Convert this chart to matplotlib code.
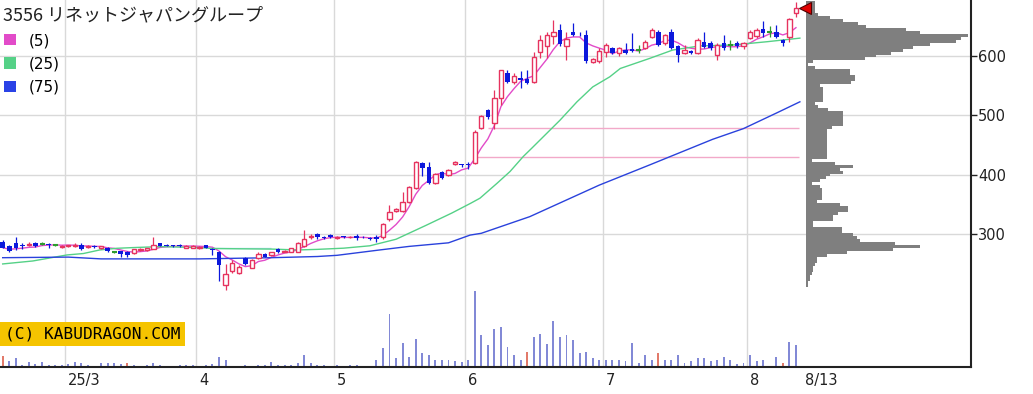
import matplotlib
matplotlib.use('Agg')
import matplotlib.pyplot as plt
from matplotlib.patches import Patch
import numpy as np
import pandas as pd

title = '3556 リネットジャパングループ'

# daily candles, 2025-02-14 .. 2025-08-13 (trading days)
opens = [288, 281, 285, 282, 282, 285, 284, 284, 282, 279,
         280, 280, 283, 279, 281, 278, 278, 271, 272, 270,
         269, 274, 274, 276, 285, 283, 282, 283, 278, 278,
         277, 282, 276, 271, 215, 238, 236, 260, 244, 260,
         268, 265, 276, 271, 271, 271, 280, 295, 300, 296,
         299, 294, 297, 295, 297, 296, 294, 295, 296, 326,
         339, 339, 355, 378, 420, 414, 387, 405, 400, 418,
         418, 419, 420, 479, 509, 487, 529, 572, 556, 563,
         562, 557, 606, 617, 634, 644, 617, 640, 636, 635,
         590, 591, 607, 613, 605, 610, 612, 610, 613, 632,
         641, 621, 641, 616, 605, 608, 605, 624, 621, 602,
         621, 618, 621, 616, 630, 633, 646, 641, 641, 627,
         632, 672]
highs = [290, 283, 295, 285, 288, 287, 287, 285, 284, 283,
         283, 286, 285, 282, 282, 281, 279, 273, 273, 272,
         276, 278, 278, 296, 286, 284, 283, 284, 282, 282,
         281, 283, 277, 273, 250, 257, 249, 263, 258, 271,
         269, 271, 277, 274, 278, 287, 308, 300, 303, 297,
         300, 297, 298, 297, 300, 297, 296, 299, 320, 350,
         345, 372, 382, 423, 421, 422, 404, 407, 410, 423,
         419, 421, 476, 501, 511, 543, 577, 577, 572, 574,
         576, 607, 635, 640, 660, 654, 640, 655, 640, 643,
         597, 614, 622, 615, 615, 622, 638, 618, 627, 647,
         643, 637, 645, 618, 618, 610, 631, 640, 625, 621,
         635, 627, 625, 623, 643, 647, 658, 650, 652, 629,
         664, 690]
lows = [277, 270, 274, 276, 280, 279, 283, 278, 280, 278,
        279, 279, 274, 277, 277, 276, 270, 269, 263, 262,
        268, 273, 273, 275, 280, 280, 279, 279, 277, 277,
        276, 277, 266, 221, 207, 235, 234, 248, 243, 259,
        262, 264, 269, 270, 270, 270, 279, 293, 293, 293,
        294, 293, 294, 294, 290, 294, 291, 287, 293, 322,
        337, 337, 353, 376, 398, 385, 385, 393, 398, 416,
        413, 410, 418, 477, 494, 478, 518, 554, 553, 546,
        553, 555, 596, 597, 620, 617, 593, 633, 633, 589,
        589, 589, 598, 603, 600, 603, 607, 605, 611, 630,
        616, 618, 611, 590, 603, 604, 603, 613, 610, 594,
        610, 610, 614, 612, 628, 631, 632, 632, 630, 616,
        623, 666]
closes = [278, 272, 278, 280, 284, 281, 284, 282, 282, 281,
          282, 283, 276, 281, 279, 280, 272, 271, 268, 266,
          275, 276, 277, 282, 281, 281, 280, 280, 281, 281,
          279, 278, 274, 249, 233, 252, 246, 250, 257, 268,
          263, 270, 270, 273, 277, 285, 293, 297, 295, 294,
          295, 296, 295, 296, 294, 295, 292, 293, 318, 338,
          343, 355, 380, 422, 412, 386, 402, 395, 408, 422,
          416, 417, 473, 499, 498, 529, 576, 557, 566, 559,
          554, 598, 627, 635, 641, 620, 628, 636, 635, 591,
          595, 609, 619, 605, 613, 605, 609, 610, 624, 643,
          618, 635, 613, 602, 610, 605, 627, 615, 613, 618,
          613, 618, 616, 622, 641, 644, 638, 641, 632, 622,
          663, 680]
volumes = [113, 57, 87, 23, 53, 33, 53, 23, 23, 23,
           27, 50, 40, 20, 13, 40, 40, 37, 33, 40,
           17, 13, 23, 37, 20, 13, 13, 17, 17, 20,
           13, 23, 33, 100, 73, 13, 13, 23, 13, 17,
           20, 53, 20, 17, 20, 40, 120, 37, 20, 20,
           13, 17, 13, 17, 20, 13, 13, 73, 187, 530,
           87, 237, 103, 283, 140, 120, 70, 70, 70, 60,
           47, 73, 757, 317, 217, 383, 397, 203, 120, 73,
           153, 300, 333, 233, 463, 300, 317, 267, 137, 153,
           87, 73, 73, 73, 73, 57, 237, 40, 120, 73,
           137, 73, 73, 120, 40, 57, 90, 87, 57, 73,
           103, 73, 33, 40, 120, 57, 70, 13, 103, 40,
           250, 220]
vol_red_days = [0, 19, 80, 100, 119]

# moving averages (index, price)
ma25_idx = [0, 4.6, 9.8, 12.3, 14.8, 17.4, 19.9, 24, 30, 32, 36, 41, 45, 48, 52,
            56, 60, 64.5, 68.5, 71.3, 72.8, 75.4, 77.4, 79.4, 80.7, 85, 87.6,
            90, 92.6, 94.2, 98.7, 102.2, 106.4, 111.4, 116.6, 121.6]
ma25_val = [250.5, 255.5, 265.6, 268, 274, 276.8, 278, 279.6, 278, 276.5, 276,
            275.5, 274, 275, 277, 281, 292, 315, 336, 352, 361, 386, 406, 431,
            445, 492, 523, 548, 565, 579, 596, 610, 617, 618.5, 624, 630]
ma75_idx = [0, 10, 15, 30, 41, 48, 51, 57.5, 62, 68, 71.3, 73, 80.4, 91, 98.7,
            108.3, 113, 118, 121.6]
ma75_val = [261, 262, 259, 259, 261, 263, 265, 274, 280, 286, 299, 302, 330,
            383, 417, 460, 478, 504, 523]

# price-volume profile, 5 yen bins
profile_price = list(range(690, 210, -5))
profile_vol = [9, 9, 9, 9, 12, 24, 37, 52, 60, 100,
               114, 162, 155, 150, 124, 107, 97, 85, 70, 59,
               7, 2, 9, 44, 44, 49, 49, 45, 14, 17,
               17, 17, 17, 17, 9, 12, 22, 37, 37, 37,
               37, 37, 26, 21, 21, 21, 21, 21, 21, 21,
               21, 21, 21, 6, 29, 47, 34, 37, 24, 20,
               14, 6, 14, 16, 16, 16, 16, 11, 34, 42,
               42, 32, 27, 27, 7, 7, 36, 36, 47, 51,
               54, 89, 114, 87, 41, 21, 11, 11, 9, 7,
               7, 6, 4, 4, 2, 2]

# horizontal levels
level_price = [479, 430, 277]
level_from = [74, 72, 31.5]
level_to = [121.5, 121.5, 41]
level_color = ['#f2a9c9', '#f2a9c9', '#b8dcf2']

month_start = [10, 30, 51, 71, 92, 114]
month_labels = ['25/3', '4', '5', '6', '7', '8']
last_label = '8/13'

UP = '#e6335f'
DOWN = '#0c18dc'
DOJI = '#2e9a2e'
C5, C25, C75 = '#e24bc9', '#55d187', '#2a42dc'

fig = plt.figure(figsize=(10.33, 3.94), dpi=100)
ax = fig.add_axes([0, 27 / 394, 971 / 1033, 367 / 394])
ax.set_xlim(-0.41, 147.7)
ax.set_ylim(77.3, 694.1)

# volume underneath
axv = ax.twinx()
axv.set_ylim(0, 3670)
axv.axis('off')
ax.set_zorder(2)
ax.patch.set_visible(False)
axv.set_zorder(1)
x = np.arange(len(closes))
vcol = ['#e27a6a' if i in vol_red_days else '#8289d6' for i in x]
axv.bar(x, volumes, width=0.3, color=vcol, linewidth=0)

# grid
for m in month_start:
    ax.axvline(m - 0.5, color='#d9d9d9', lw=1, zorder=0)
ax.set_yticks([300, 400, 500, 600])
ax.grid(axis='y', color='#d9d9d9', lw=1, zorder=0)

for p, a, b, col in zip(level_price, level_from, level_to, level_color):
    ax.hlines(p, a, b, color=col, lw=1, zorder=1)

# moving averages
ma5 = pd.Series(closes).rolling(5, min_periods=1).mean()
ax.plot(x, ma5, color=C5, lw=1, zorder=2)
ax.plot(ma25_idx, ma25_val, color=C25, lw=1, zorder=2)
ax.plot(ma75_idx, ma75_val, color=C75, lw=1, zorder=2)

# candles
o, h, l, c = map(np.array, (opens, highs, lows, closes))
up, dn, dj = c > o, c < o, c == o
ax.vlines(x[up], l[up], h[up], color=UP, lw=0.9, zorder=3)
ax.bar(x[up], (c - o)[up], bottom=o[up], width=0.66, facecolor='white',
       edgecolor=UP, linewidth=1, zorder=4)
ax.vlines(x[dn], l[dn], h[dn], color=DOWN, lw=0.9, zorder=3)
ax.bar(x[dn], (o - c)[dn], bottom=c[dn], width=0.7, color=DOWN, linewidth=0, zorder=4)
ax.vlines(x[dj], l[dj], h[dj], color=DOJI, lw=0.9, zorder=3)
ax.hlines(c[dj], x[dj] - 0.38, x[dj] + 0.38, color=DOJI, lw=1.5, zorder=4)

ax.plot(x[-1] + 1.4, closes[-1], marker='<', ms=8, mfc='#e00000', mec='#500000',
        mew=0.8, zorder=6, clip_on=False)

# price-volume profile
axp = ax.inset_axes([806 / 971, 0, 165 / 971, 1])
axp.barh(profile_price, profile_vol, height=5, color='#7f7f7f', linewidth=0)
axp.set_xlim(0, 165)
axp.set_ylim(ax.get_ylim())
axp.axis('off')

# axes styling
for s in ['left', 'top']:
    ax.spines[s].set_visible(False)
for s in ['right', 'bottom']:
    ax.spines[s].set_color('#222222')
    ax.spines[s].set_linewidth(1.5)
ax.yaxis.tick_right()
ax.tick_params(axis='y', length=4, width=1, pad=1, labelsize=10.5, colors='#222222')
ax.set_xticks([m - 0.05 for m in month_start] + [len(closes) + 0.4])
ax.set_xticklabels(month_labels + [last_label])
ax.tick_params(axis='x', length=0, pad=4, labelsize=10.5, colors='#222222')
for t in ax.get_xticklabels():
    t.set_ha('left')

# title and legend
fig.text(3 / 1033, 1 - 15 / 394, title, fontsize=13, va='center',
         family=['Noto Sans CJK JP', 'DejaVu Sans'], color='#222222')
ax.legend(handles=[Patch(fc=C5, ec='none'), Patch(fc=C25, ec='none'), Patch(fc='#2a42e6', ec='none')],
          labels=['(5)', '(25)', '(75)'], loc='upper left',
          bbox_to_anchor=(4 / 971, 1 - 33 / 367), frameon=False, borderpad=0,
          borderaxespad=0, handlelength=0.8, handleheight=0.75, handletextpad=0.8,
          labelspacing=0.55, fontsize=11)

ax.text(5 / 971, (367 - 334) / 367, '(C) KABUDRAGON.COM', transform=ax.transAxes,
        va='center', ha='left', family='DejaVu Sans Mono', fontsize=11.6,
        bbox=dict(boxstyle='square,pad=0.3', fc='#f5c400', ec='none'), zorder=7)

fig.savefig('out.png', dpi=100)
